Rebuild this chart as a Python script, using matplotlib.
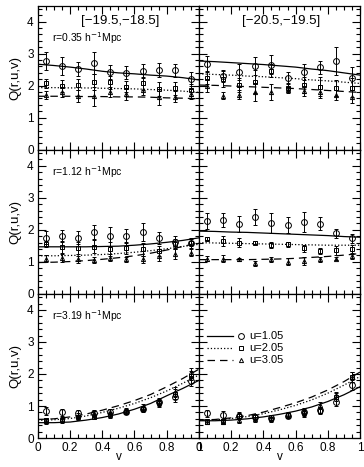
import matplotlib
matplotlib.use('Agg')
import matplotlib.pyplot as plt
from matplotlib.ticker import MultipleLocator, FuncFormatter
import numpy as np

plt.rcParams['font.family'] = ['Liberation Sans', 'DejaVu Sans']

# measurement points and model grid
v_data = [0.05, 0.15, 0.25, 0.35, 0.45, 0.55, 0.65, 0.75, 0.85, 0.95]
v_model = [0.0, 0.1, 0.2, 0.3, 0.4, 0.5, 0.6, 0.7, 0.8, 0.9, 1.0]

mag_bins = ['[\u221219.5,\u221218.5]', '[\u221220.5,\u221219.5]']
radii = ['r=0.35 h$^{-1}$Mpc', 'r=1.12 h$^{-1}$Mpc', 'r=3.19 h$^{-1}$Mpc']
u_labels = ['u=1.05', 'u=2.05', 'u=3.05']

# panel order: (row, col) -> [u=1.05, u=2.05, u=3.05]
q_data = {
    (0, 0): [[2.77, 2.60, 2.52, 2.70, 2.43, 2.40, 2.45, 2.48, 2.48, 2.20],
             [2.07, 1.99, 2.03, 2.12, 2.10, 1.97, 2.07, 1.90, 1.92, 1.86],
             [1.71, 1.81, 1.67, 1.67, 1.81, 1.74, 1.87, 1.64, 1.66, 1.74]],
    (0, 1): [[2.67, 2.30, 2.43, 2.62, 2.65, 2.25, 2.43, 2.57, 2.77, 2.23],
             [2.25, 2.20, 2.03, 2.13, 2.47, 1.94, 2.03, 1.97, 1.94, 1.94],
             [2.00, 1.69, 1.72, 1.79, 1.81, 1.86, 1.84, 1.81, 1.71, 1.66]],
    (1, 0): [[1.75, 1.80, 1.75, 1.93, 1.80, 1.82, 1.93, 1.75, 1.62, 1.58],
             [1.55, 1.47, 1.44, 1.47, 1.39, 1.44, 1.39, 1.34, 1.55, 1.60],
             [1.10, 1.13, 1.08, 1.06, 1.13, 1.08, 1.08, 1.19, 1.24, 1.29]],
    (1, 1): [[2.29, 2.32, 2.19, 2.39, 2.22, 2.16, 2.25, 2.19, 1.89, 1.73],
             [1.72, 1.65, 1.60, 1.60, 1.52, 1.55, 1.42, 1.34, 1.36, 1.39],
             [1.10, 1.10, 1.08, 0.96, 1.08, 1.01, 1.03, 1.08, 1.10, 1.19]],
    (2, 0): [[0.84, 0.80, 0.77, 0.77, 0.80, 0.82, 0.92, 1.11, 1.28, 1.79],
             [0.56, 0.56, 0.65, 0.67, 0.72, 0.82, 0.90, 1.08, 1.38, 1.95],
             [0.53, 0.59, 0.70, 0.77, 0.82, 0.87, 0.97, 1.15, 1.44, 2.05]],
    (2, 1): [[0.77, 0.72, 0.70, 0.65, 0.64, 0.70, 0.80, 0.87, 1.11, 1.66],
             [0.51, 0.53, 0.70, 0.67, 0.59, 0.72, 0.77, 0.84, 1.28, 1.90],
             [0.51, 0.51, 0.56, 0.59, 0.64, 0.70, 0.84, 1.03, 1.33, 1.90]],
}

q_err = {
    (0, 0): [[0.27, 0.28, 0.22, 0.35, 0.22, 0.20, 0.22, 0.22, 0.20, 0.22],
             [0.15, 0.20, 0.18, 0.25, 0.20, 0.18, 0.20, 0.22, 0.20, 0.18],
             [0.12, 0.15, 0.18, 0.30, 0.15, 0.18, 0.15, 0.25, 0.18, 0.15]],
    (0, 1): [[0.25, 0.18, 0.25, 0.28, 0.30, 0.18, 0.25, 0.20, 0.45, 0.35],
             [0.20, 0.25, 0.22, 0.35, 0.20, 0.12, 0.25, 0.30, 0.25, 0.30],
             [0.20, 0.10, 0.15, 0.28, 0.25, 0.10, 0.15, 0.20, 0.15, 0.20]],
    (1, 0): [[0.20, 0.18, 0.20, 0.22, 0.30, 0.22, 0.28, 0.18, 0.18, 0.15],
             [0.10, 0.18, 0.18, 0.20, 0.22, 0.18, 0.20, 0.15, 0.15, 0.12],
             [0.10, 0.12, 0.10, 0.08, 0.10, 0.08, 0.10, 0.15, 0.15, 0.12]],
    (1, 1): [[0.25, 0.22, 0.25, 0.25, 0.32, 0.25, 0.32, 0.20, 0.15, 0.15],
             [0.05, 0.15, 0.15, 0.05, 0.10, 0.08, 0.12, 0.10, 0.15, 0.15],
             [0.08, 0.10, 0.05, 0.08, 0.08, 0.10, 0.12, 0.08, 0.05, 0.10]],
    (2, 0): [[0.12, 0.12, 0.12, 0.10, 0.10, 0.08, 0.08, 0.10, 0.15, 0.15],
             [0.08, 0.08, 0.08, 0.08, 0.08, 0.08, 0.08, 0.10, 0.15, 0.15],
             [0.08, 0.08, 0.08, 0.08, 0.08, 0.08, 0.08, 0.10, 0.15, 0.15]],
    (2, 1): [[0.10, 0.12, 0.10, 0.10, 0.08, 0.08, 0.10, 0.10, 0.12, 0.15],
             [0.08, 0.08, 0.08, 0.08, 0.08, 0.08, 0.10, 0.10, 0.12, 0.15],
             [0.08, 0.08, 0.08, 0.08, 0.08, 0.08, 0.10, 0.10, 0.12, 0.15]],
}

q_model = {
    (0, 0): [[2.67, 2.63, 2.58, 2.52, 2.45, 2.40, 2.37, 2.33, 2.30, 2.25, 2.18],
             [1.94, 1.94, 1.93, 1.93, 1.92, 1.91, 1.90, 1.88, 1.86, 1.83, 1.79],
             [1.67, 1.67, 1.67, 1.66, 1.66, 1.65, 1.65, 1.64, 1.62, 1.61, 1.59]],
    (0, 1): [[2.77, 2.75, 2.72, 2.69, 2.66, 2.62, 2.58, 2.52, 2.47, 2.40, 2.33],
             [2.37, 2.35, 2.33, 2.30, 2.28, 2.25, 2.22, 2.18, 2.15, 2.11, 2.07],
             [2.02, 2.01, 1.99, 1.97, 1.95, 1.93, 1.91, 1.88, 1.85, 1.82, 1.79]],
    (1, 0): [[1.47, 1.47, 1.47, 1.47, 1.48, 1.49, 1.52, 1.56, 1.61, 1.67, 1.75],
             [1.19, 1.19, 1.20, 1.21, 1.23, 1.26, 1.30, 1.35, 1.41, 1.48, 1.55],
             [0.98, 0.99, 1.01, 1.04, 1.08, 1.13, 1.19, 1.27, 1.37, 1.48, 1.60]],
    (1, 1): [[1.96, 1.95, 1.93, 1.92, 1.90, 1.88, 1.86, 1.84, 1.82, 1.79, 1.77],
             [1.60, 1.59, 1.58, 1.57, 1.56, 1.55, 1.54, 1.53, 1.52, 1.52, 1.52],
             [1.07, 1.07, 1.07, 1.07, 1.08, 1.09, 1.11, 1.14, 1.17, 1.21, 1.26]],
    (2, 0): [[0.48, 0.48, 0.50, 0.56, 0.64, 0.75, 0.90, 1.08, 1.32, 1.55, 1.80],
             [0.55, 0.57, 0.61, 0.69, 0.80, 0.93, 1.08, 1.26, 1.47, 1.71, 1.97],
             [0.58, 0.60, 0.66, 0.75, 0.87, 1.01, 1.17, 1.36, 1.60, 1.86, 2.15]],
    (2, 1): [[0.54, 0.54, 0.56, 0.60, 0.66, 0.74, 0.84, 0.97, 1.14, 1.35, 1.60],
             [0.55, 0.57, 0.61, 0.67, 0.76, 0.88, 1.02, 1.19, 1.40, 1.65, 1.92],
             [0.56, 0.58, 0.63, 0.70, 0.81, 0.95, 1.10, 1.28, 1.50, 1.76, 2.06]],
}

markers = ['o', 's', '^']
marker_sizes = [4.2, 3.0, 3.0]
line_styles = ['-', ':', (0, (6, 4))]
label_y = [0.75, 0.82, 0.82]

fig, axes = plt.subplots(3, 2, figsize=(3.64, 4.67), dpi=100, sharex=True, sharey=True)
fig.subplots_adjust(left=0.104, right=0.989, bottom=0.062, top=0.988, hspace=0, wspace=0)

for row in range(3):
    for col in range(2):
        ax = axes[row, col]
        for k in range(3):
            ax.errorbar(v_data, q_data[(row, col)][k], yerr=q_err[(row, col)][k],
                        fmt=markers[k], ms=marker_sizes[k], mfc='none', mec='black',
                        mew=0.7, ecolor='black', elinewidth=0.7, capsize=1.6, capthick=0.7)
            ax.plot(v_model, q_model[(row, col)][k], color='black', lw=0.9,
                    linestyle=line_styles[k])
        ax.set_xlim(0, 1)
        ax.set_ylim(0, 4.5)
        ax.xaxis.set_major_locator(MultipleLocator(0.2))
        ax.xaxis.set_minor_locator(MultipleLocator(0.05))
        ax.yaxis.set_major_locator(MultipleLocator(1))
        ax.yaxis.set_minor_locator(MultipleLocator(0.2))
        ax.tick_params(which='both', direction='in', top=True, right=True, labelsize=8.5,
                       width=0.8, pad=3)
        ax.tick_params(which='major', length=6)
        ax.tick_params(which='minor', length=3)
        for s in ax.spines.values():
            s.set_linewidth(0.9)
        if col == 0:
            ax.set_ylabel('Q(r,u,v)', fontsize=9.5, labelpad=4)
            ax.text(0.09, label_y[row], radii[row], transform=ax.transAxes, fontsize=7.5)
        else:
            ax.tick_params(labelleft=False)
        if row == 2:
            ax.set_xlabel('v', fontsize=8.5, labelpad=-2)
        if row == 0:
            ax.text(0.51, 0.89, mag_bins[col], transform=ax.transAxes, fontsize=9.5,
                    ha='center', va='center')

fmt = FuncFormatter(lambda x, pos: '%g' % round(x, 2))
axes[2, 0].xaxis.set_major_formatter(fmt)
axes[2, 0].yaxis.set_major_formatter(fmt)
axes[2, 0].set_xticks([0, 0.2, 0.4, 0.6, 0.8])
axes[2, 1].set_xticks([0, 0.2, 0.4, 0.6, 0.8, 1.0])
axes[2, 1].xaxis.set_major_formatter(fmt)

# legend in the lower right panel: line sample, marker, text
lax = axes[2, 1]
for k in range(3):
    yk = 0.71 - 0.085 * k
    lax.plot([0.05, 0.21], [yk, yk], transform=lax.transAxes, color='black', lw=0.9,
             linestyle=line_styles[k])
    lax.plot([0.26], [yk], transform=lax.transAxes, marker=markers[k], ms=marker_sizes[k],
             mfc='none', mec='black', mew=0.7, linestyle='none')
    lax.text(0.31, yk, u_labels[k], transform=lax.transAxes, fontsize=8, va='center')

fig.savefig('out.png', dpi=100)
